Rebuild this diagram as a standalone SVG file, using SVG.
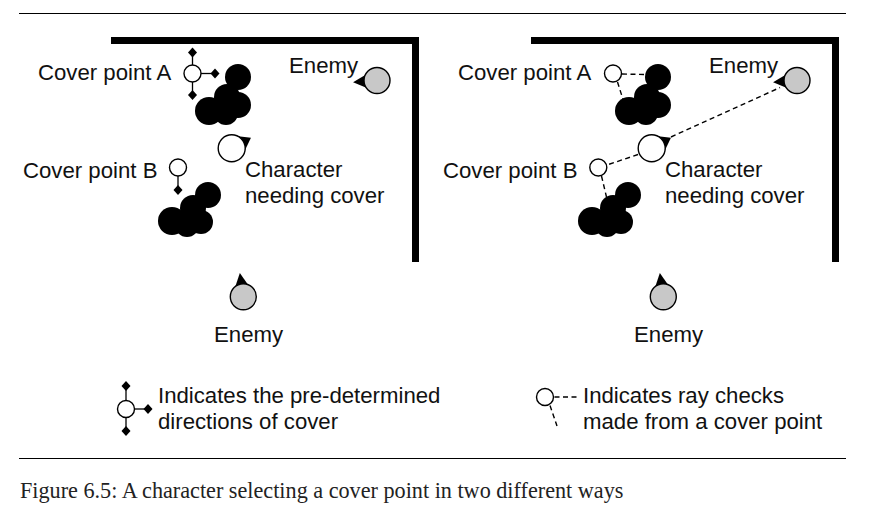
<svg xmlns="http://www.w3.org/2000/svg" width="878" height="518" viewBox="0 0 878 518">
<style>
.bg{fill:#fff}
.rule{stroke:#000;stroke-width:1.2}
.wall{fill:#000}
.pt{fill:#fff;stroke:#000;stroke-width:1.4}
.enemy{fill:#c8c8c8;stroke:#000;stroke-width:1.4}
.blob{fill:#000}
.tick{stroke:#000;stroke-width:1.3;fill:none}
.ray{stroke:#000;stroke-width:1.4;stroke-dasharray:5 3.5;fill:none}
.lbl{font-family:"Liberation Sans",Arial,Helvetica,sans-serif;font-size:22.2px;fill:#111}
.cap{font-family:"Liberation Serif","Times New Roman",serif;font-size:22.2px;fill:#222}
</style>
<defs>
<path id="dia" d="M0,-5 L4.5,0 L0,5 L-4.5,0Z" fill="#000"/>
<path id="tri" d="M24,0 L10,-7 L10,7Z" fill="#000"/>
<path id="tric" d="M22,0 L8,-10 L8,10Z" fill="#000"/>
</defs>
<rect class="bg" x="0" y="0" width="878" height="518"/>
<line class="rule" x1="19" y1="13.5" x2="846" y2="13.5"/>
<line class="rule" x1="19" y1="458.5" x2="846" y2="458.5"/>

<!-- LEFT PANEL -->
<g id="wall-left"><rect class="wall" x="111" y="37" width="308" height="7"/><rect class="wall" x="412" y="37" width="7" height="225"/></g>
<g id="blobA-left"><circle class="blob" cx="238" cy="77" r="13"/><circle class="blob" cx="227" cy="97" r="13"/><circle class="blob" cx="238" cy="105" r="13"/><circle class="blob" cx="226" cy="113" r="12"/><circle class="blob" cx="209" cy="111" r="14"/></g>
<g id="blobB-left"><circle class="blob" cx="208" cy="195" r="13"/><circle class="blob" cx="193" cy="208" r="13"/><circle class="blob" cx="201" cy="222" r="12"/><circle class="blob" cx="187" cy="225" r="12"/><circle class="blob" cx="172" cy="221" r="14"/></g>
<g id="coverA-left">
<line class="tick" x1="192.5" y1="65" x2="192.5" y2="52.5"/><line class="tick" x1="201" y1="73.5" x2="215" y2="73.5"/><line class="tick" x1="192.5" y1="82" x2="192.5" y2="95"/>
<use href="#dia" x="192.5" y="52.5"/><use href="#dia" x="215" y="73.5"/><use href="#dia" x="192.5" y="95"/>
<circle class="pt" cx="192.5" cy="73.5" r="8.5"/>
<text class="lbl" x="38" y="80">Cover point A</text>
</g>
<g id="coverB-left">
<line class="tick" x1="178" y1="176" x2="178" y2="190"/><use href="#dia" x="178" y="190"/>
<circle class="pt" cx="178" cy="167.5" r="8.5"/>
<text class="lbl" x="23" y="178">Cover point B</text>
</g>
<g id="char-left">
<use href="#tric" transform="translate(231.7,148.3) rotate(-29)"/>
<circle class="pt" cx="231.7" cy="148.3" r="13.5"/>
<text class="lbl" x="245" y="177">Character</text><text class="lbl" x="245" y="203">needing cover</text>
</g>
<g id="enemy1-left">
<use href="#tri" transform="translate(377,80.5) rotate(175.8)"/>
<circle class="enemy" cx="377" cy="80.5" r="13"/>
<text class="lbl" x="289" y="73">Enemy</text>
</g>
<g id="enemy2-left">
<use href="#tri" transform="translate(243.3,296.7) rotate(-98.3)"/>
<circle class="enemy" cx="243.3" cy="296.7" r="13"/>
<text class="lbl" x="214" y="342">Enemy</text>
</g>

<!-- RIGHT PANEL -->
<g id="connectors-right">
<line class="ray" x1="622" y1="74" x2="646" y2="74.5"/>
<line class="ray" x1="617.5" y1="82" x2="623.5" y2="101"/>
<line class="ray" x1="671" y1="137" x2="780" y2="87.5"/>
<line class="ray" x1="638" y1="154.5" x2="607" y2="165"/>
<line class="ray" x1="601.5" y1="176" x2="606.5" y2="197"/>
</g>
<g id="wall-right"><rect class="wall" x="531" y="37" width="308" height="7"/><rect class="wall" x="832" y="37" width="7" height="225"/></g>
<g id="blobA-right"><circle class="blob" cx="658" cy="77" r="13"/><circle class="blob" cx="647" cy="97" r="13"/><circle class="blob" cx="658" cy="105" r="13"/><circle class="blob" cx="646" cy="113" r="12"/><circle class="blob" cx="629" cy="111" r="14"/></g>
<g id="blobB-right"><circle class="blob" cx="628" cy="195" r="13"/><circle class="blob" cx="613" cy="208" r="13"/><circle class="blob" cx="621" cy="222" r="12"/><circle class="blob" cx="607" cy="225" r="12"/><circle class="blob" cx="592" cy="221" r="14"/></g>
<g id="coverA-right">
<circle class="pt" cx="613" cy="73.5" r="8.5"/>
<text class="lbl" x="458" y="80">Cover point A</text>
</g>
<g id="coverB-right">
<circle class="pt" cx="598.3" cy="167.5" r="8.5"/>
<text class="lbl" x="443" y="178">Cover point B</text>
</g>
<g id="char-right">
<use href="#tric" transform="translate(651.7,148.3) rotate(-29)"/>
<circle class="pt" cx="651.7" cy="148.3" r="13.5"/>
<text class="lbl" x="665" y="177">Character</text><text class="lbl" x="665" y="203">needing cover</text>
</g>
<g id="enemy1-right">
<use href="#tri" transform="translate(797,80.5) rotate(175.8)"/>
<circle class="enemy" cx="797" cy="80.5" r="13"/>
<text class="lbl" x="709" y="73">Enemy</text>
</g>
<g id="enemy2-right">
<use href="#tri" transform="translate(663.3,296.7) rotate(-98.3)"/>
<circle class="enemy" cx="663.3" cy="296.7" r="13"/>
<text class="lbl" x="634" y="342">Enemy</text>
</g>

<!-- LEGEND -->
<g id="legend-left">
<line class="tick" x1="126" y1="400.5" x2="126" y2="386"/><line class="tick" x1="134.5" y1="409" x2="148" y2="409"/><line class="tick" x1="126" y1="417.5" x2="126" y2="431"/>
<use href="#dia" x="126" y="386"/><use href="#dia" x="148" y="409"/><use href="#dia" x="126" y="431"/>
<circle class="pt" cx="126" cy="409" r="8.5"/>
<text class="lbl" x="158" y="403">Indicates the pre-determined</text>
<text class="lbl" x="158" y="429">directions of cover</text>
</g>
<g id="legend-right">
<line class="ray" x1="554.5" y1="397" x2="578" y2="397"/>
<line class="ray" x1="550" y1="405.5" x2="557" y2="426"/>
<circle class="pt" cx="545" cy="397" r="8.5"/>
<text class="lbl" x="583" y="403">Indicates ray checks</text>
<text class="lbl" x="583" y="429">made from a cover point</text>
</g>

<text class="cap" x="20" y="498">Figure 6.5: A character selecting a cover point in two different ways</text>
</svg>
